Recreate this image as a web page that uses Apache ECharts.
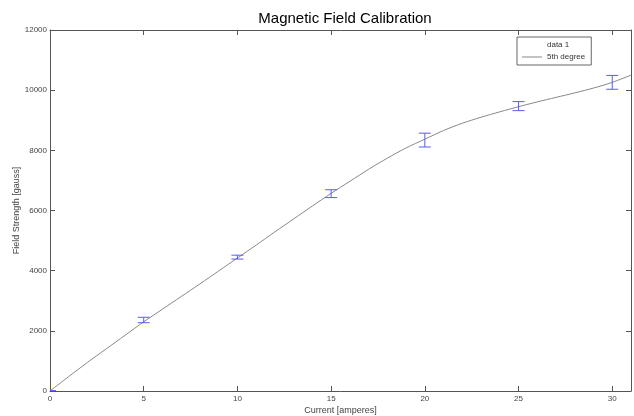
<!DOCTYPE html>
<html>
<head>
<meta charset="utf-8">
<script src="https://cdn.jsdelivr.net/npm/echarts@6/dist/echarts.min.js"></script>
<style>
  html, body { margin: 0; padding: 0; background: #fff; }
  #chart { width: 634px; height: 416px; }
</style>
</head>
<body>
<div id="chart"></div>
<script>
// measured points with error bars
const currents = [0, 5, 10, 15, 20, 25, 30]
const fieldMeans = [0, 2360, 4450, 6560, 8340, 9470, 10260]
const fieldErrors = [15, 90, 65, 130, 230, 150, 230]

// fitted curve
const fitCurrents = [0, 1, 2, 3, 4, 5, 6, 7, 8, 9, 10, 11, 12, 13, 14, 15, 16, 17, 18, 19, 20, 21, 22, 23, 24, 25, 26, 27, 28, 29, 30, 31]
const fitValues = [0, 480, 950, 1400, 1850, 2300, 2720, 3140, 3560, 3990, 4420, 4850, 5290, 5720, 6150, 6570, 6970, 7370, 7740, 8080, 8370, 8660, 8900, 9100, 9280, 9450, 9610, 9760, 9910, 10070, 10260, 10500]

const axisColor = '#555'
const labelColor = '#444'
const barColor = '#5a5aff'
const font = 'Liberation Sans, Arial, sans-serif'

const chart = echarts.init(document.getElementById('chart'))

const mirrorAxis = {
  axisLine: { show: true, onZero: false, lineStyle: { color: axisColor, width: 1 } },
  axisTick: { show: true, inside: true, length: 5, lineStyle: { color: axisColor } },
  axisLabel: { show: false },
  splitLine: { show: false },
}

const option = {
  backgroundColor: '#fff',
  animation: false,
  title: {
    text: 'Magnetic Field Calibration',
    left: 340,
    textAlign: 'center',
    top: 6,
    textStyle: { fontFamily: font, fontSize: 15, fontWeight: 'normal', color: '#000' },
  },
  legend: {
    show: true,
    orient: 'vertical',
    left: 517,
    top: 37,
    padding: [4, 6, 4, 5],
    itemGap: 4,
    itemWidth: 20,
    itemHeight: 8,
    borderColor: '#666',
    borderWidth: 1,
    backgroundColor: '#fff',
    textStyle: { fontFamily: font, fontSize: 8, color: '#333' },
    data: [
      { name: 'data 1', icon: 'none' },
      { name: '5th degree', icon: 'path://M0,4L20,4L20,5L0,5Z', itemStyle: { color: '#888' } },
    ],
  },
  grid: {
    left: 50,
    right: 3,
    top: 30,
    bottom: 25,
    outerBoundsMode: 'none',
  },
  xAxis: [
    {
      type: 'value',
      min: 0,
      max: 31,
      interval: 5,
      name: 'Current [amperes]',
      nameLocation: 'middle',
      nameGap: 15,
      nameMoveOverlap: false,
      nameTextStyle: { fontFamily: font, fontSize: 9, color: labelColor },
      axisLine: { onZero: false, lineStyle: { color: axisColor } },
      axisTick: { inside: true, length: 5, lineStyle: { color: axisColor } },
      axisLabel: { fontFamily: font, fontSize: 8, color: labelColor, margin: 4, showMaxLabel: false, formatter: (v) => String(v) },
      splitLine: { show: false },
    },
    Object.assign({ type: 'value', min: 0, max: 31, interval: 5, position: 'top' }, mirrorAxis),
  ],
  yAxis: [
    {
      type: 'value',
      min: 0,
      max: 12000,
      interval: 2000,
      name: 'Field Strength [gauss]',
      nameLocation: 'middle',
      nameGap: 29,
      nameMoveOverlap: false,
      nameTextStyle: { fontFamily: font, fontSize: 9, color: labelColor },
      axisLine: { show: true, onZero: false, lineStyle: { color: axisColor } },
      axisTick: { show: true, inside: true, length: 5, lineStyle: { color: axisColor } },
      axisLabel: { fontFamily: font, fontSize: 8, color: labelColor, margin: 3, formatter: (v) => String(v) },
      splitLine: { show: false },
    },
    Object.assign({ type: 'value', min: 0, max: 12000, interval: 2000, position: 'right' }, mirrorAxis),
  ],
  series: [
    {
      name: 'data 1',
      type: 'custom',
      clip: true,
      z: 3,
      itemStyle: { color: barColor },
      data: currents.map((x, i) => [x, fieldMeans[i] - fieldErrors[i], fieldMeans[i] + fieldErrors[i]]),
      renderItem(params, api) {
        const x = api.value(0)
        const lo = api.coord([x, api.value(1)])
        const hi = api.coord([x, api.value(2)])
        const w = 6
        const style = { stroke: barColor, lineWidth: 1 }
        return {
          type: 'group',
          children: [
            { type: 'line', shape: { x1: lo[0], y1: lo[1], x2: hi[0], y2: hi[1] }, style },
            { type: 'line', shape: { x1: lo[0] - w, y1: lo[1], x2: lo[0] + w, y2: lo[1] }, style },
            { type: 'line', shape: { x1: hi[0] - w, y1: hi[1], x2: hi[0] + w, y2: hi[1] }, style },
          ],
        }
      },
    },
    {
      name: '5th degree',
      type: 'line',
      smooth: 0.3,
      symbol: 'none',
      z: 2,
      lineStyle: { color: '#888', width: 1 },
      itemStyle: { color: '#888' },
      data: fitCurrents.map((x, i) => [x, fitValues[i]]),
    },
  ],
}

chart.setOption(option)
</script>
</body>
</html>
